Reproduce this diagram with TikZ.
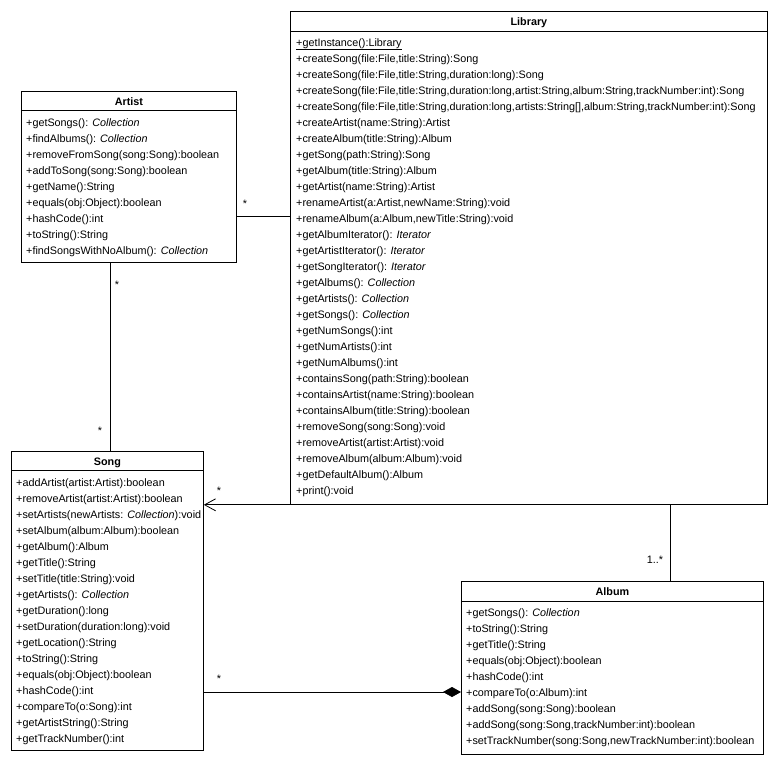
\documentclass[tikz,border=0pt]{standalone}
\usepackage{fontspec}
\setmainfont{Liberation Sans}
\usetikzlibrary{arrows.meta,calc}
\begin{document}
\begin{tikzpicture}[x=1pt,y=-1pt,
  classbox/.style={draw, line width=0.8pt, anchor=north west, inner sep=0pt},
  member/.style={anchor=base west, inner sep=0pt, font=\fontsize{10.8}{12}\selectfont},
  ctitle/.style={anchor=base, inner sep=0pt, font=\fontsize{10.8}{12}\selectfont\bfseries},
  mult/.style={anchor=base, inner sep=0pt, font=\fontsize{10.8}{12}\selectfont},
  conn/.style={line width=0.8pt},
  sepline/.style={line width=0.8pt}]
\useasboundingbox (0,0) rectangle (779,756);

% ---------- Library ----------
\node[classbox, minimum width=477pt, minimum height=493pt] (lib) at (290,11) {};
\draw[sepline] ($(lib.north west)+(0,20)$) -- ($(lib.north east)+(0,20)$);
\node[ctitle] (libt) at ($(lib.north)+(0,14)$) {Library};
\foreach [count=\i from 0] \t in {
  {\underline{+getInstance():Library}},
  {+createSong(file:File,title:String):Song},
  {+createSong(file:File,title:String,duration:long):Song},
  {+createSong(file:File,title:String,duration:long,artist:String,album:String,trackNumber:int):Song},
  {+createSong(file:File,title:String,duration:long,artists:String[],album:String,trackNumber:int):Song},
  {+createArtist(name:String):Artist},
  {+createAlbum(title:String):Album},
  {+getSong(path:String):Song},
  {+getAlbum(title:String):Album},
  {+getArtist(name:String):Artist},
  {+renameArtist(a:Artist,newName:String):void},
  {+renameAlbum(a:Album,newTitle:String):void},
  {+getAlbumIterator(): \textit{Iterator}},
  {+getArtistIterator(): \textit{Iterator}},
  {+getSongIterator(): \textit{Iterator}},
  {+getAlbums(): \textit{Collection}},
  {+getArtists(): \textit{Collection}},
  {+getSongs(): \textit{Collection}},
  {+getNumSongs():int},
  {+getNumArtists():int},
  {+getNumAlbums():int},
  {+containsSong(path:String):boolean},
  {+containsArtist(name:String):boolean},
  {+containsAlbum(title:String):boolean},
  {+removeSong(song:Song):void},
  {+removeArtist(artist:Artist):void},
  {+removeAlbum(album:Album):void},
  {+getDefaultAlbum():Album},
  {+print():void}}
  \node[member] (lib-\i) at (296,46+16*\i) {\t};

% ---------- Artist ----------
\node[classbox, minimum width=215pt, minimum height=171pt] (artist) at (21,91) {};
\draw[sepline] ($(artist.north west)+(0,19)$) -- ($(artist.north east)+(0,19)$);
\node[ctitle] (artistt) at ($(artist.north)+(0,14)$) {Artist};
\foreach [count=\i from 0] \t in {
  {+getSongs(): \textit{Collection}},
  {+findAlbums(): \textit{Collection}},
  {+removeFromSong(song:Song):boolean},
  {+addToSong(song:Song):boolean},
  {+getName():String},
  {+equals(obj:Object):boolean},
  {+hashCode():int},
  {+toString():String},
  {+findSongsWithNoAlbum(): \textit{Collection}}}
  \node[member] (artist-\i) at (26,126+16*\i) {\t};

% ---------- Song ----------
\node[classbox, minimum width=192pt, minimum height=299pt] (song) at (11,451) {};
\draw[sepline] ($(song.north west)+(0,19)$) -- ($(song.north east)+(0,19)$);
\node[ctitle] (songt) at ($(song.north)+(0,14)$) {Song};
\foreach [count=\i from 0] \t in {
  {+addArtist(artist:Artist):boolean},
  {+removeArtist(artist:Artist):boolean},
  {+setArtists(newArtists: \textit{Collection}):void},
  {+setAlbum(album:Album):boolean},
  {+getAlbum():Album},
  {+getTitle():String},
  {+setTitle(title:String):void},
  {+getArtists(): \textit{Collection}},
  {+getDuration():long},
  {+setDuration(duration:long):void},
  {+getLocation():String},
  {+toString():String},
  {+equals(obj:Object):boolean},
  {+hashCode():int},
  {+compareTo(o:Song):int},
  {+getArtistString():String},
  {+getTrackNumber():int}}
  \node[member] (song-\i) at (16,486+16*\i) {\t};

% ---------- Album ----------
\node[classbox, minimum width=302pt, minimum height=173pt] (album) at (461,581) {};
\draw[sepline] ($(album.north west)+(0,20)$) -- ($(album.north east)+(0,20)$);
\node[ctitle] (albumt) at ($(album.north)+(0,14)$) {Album};
\foreach [count=\i from 0] \t in {
  {+getSongs(): \textit{Collection}},
  {+toString():String},
  {+getTitle():String},
  {+equals(obj:Object):boolean},
  {+hashCode():int},
  {+compareTo(o:Album):int},
  {+addSong(song:Song):boolean},
  {+addSong(song:Song,trackNumber:int):boolean},
  {+setTrackNumber(song:Song,newTrackNumber:int):boolean}}
  \node[member] (album-\i) at (466,616+16*\i) {\t};

% ---------- Connectors ----------
\coordinate (yart) at (0,216);
\coordinate (xas) at (110,0);
\coordinate (ysa) at (0,692);
\coordinate (xla) at (670,0);

\draw[conn] (artist.east |- yart) -- (lib.west |- yart);
\draw[conn] (xas |- artist.south) -- (xas |- song.north);
\draw[conn,-{Straight Barb[length=11pt,width=12pt]}] (lib.south west) -- (song.east |- lib.south west);
\draw[conn,-{Diamond[length=18pt,width=10pt]}] (song.east |- ysa) -- (album.west |- ysa);
\draw[conn] (xla |- lib.south) -- (xla |- album.north);

% ---------- Multiplicities ----------
\node[mult] (m1) at (245,207) {*};
\node[mult] (m2) at (117,288) {*};
\node[mult] (m3) at (100,434) {*};
\node[mult] (m4) at (219,494) {*};
\node[mult] (m5) at (219,682) {*};
\node[mult] (m6) at (655,563) {1..*};
\end{tikzpicture}
\end{document}
